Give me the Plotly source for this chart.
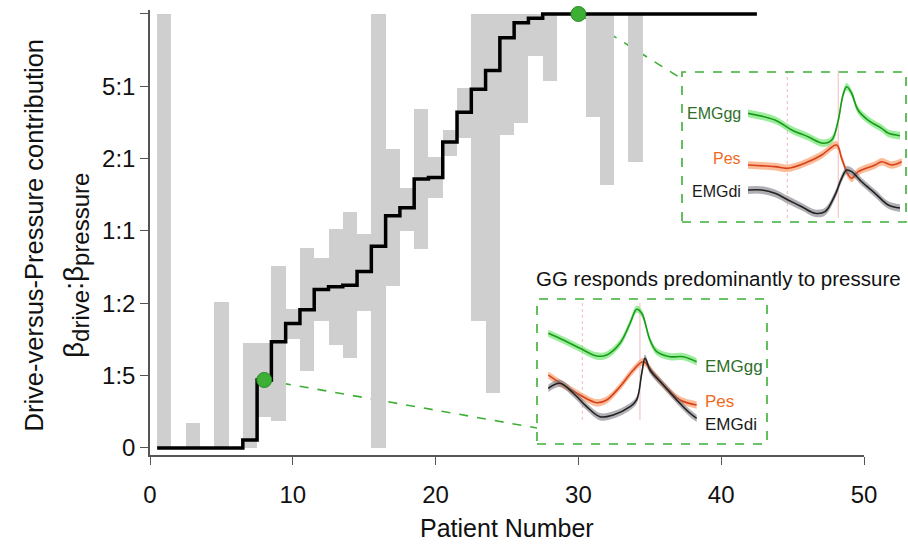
import plotly.graph_objects as go

# ---------------- main data ----------------
patients = list(range(1, 43))
drive_pressure = [0, 0, 0, 0, 0, 0, 0.11, 0.94, 1.47, 1.72, 1.91, 2.19, 2.23, 2.25,
                  2.44, 2.79, 3.21, 3.32, 3.72, 3.74, 4.23, 4.64, 4.96, 5.22, 5.67,
                  5.88, 5.94, 6, 6, 6, 6, 6, 6, 6, 6, 6, 6, 6, 6, 6, 6, 6]
ci_low = [0, None, 0, None, 0, None, 0, 0.43, 0.37, 1.50, 1.07, 1.76, 1.42, 1.24,
          1.90, 0, 2.24, 3.00, 2.75, 3.45, 4.04, 4.28, 1.75, 0.76, 4.33, 4.49, 5.42,
          5.07, None, None, 4.58, 3.63, None, 3.95, None, None, None, None, None,
          None, None, None]
ci_high = [6, None, 0.35, None, 2.02, None, 1.45, 1.45, 2.52, 1.92, 2.76, 2.63, 3.03,
           3.26, 2.96, 6, 4.14, 3.60, 4.68, 4.02, 4.40, 4.98, 6, 6, 6, 6, 6, 6, None,
           None, 6, 6, None, 6, None, None, None, None, None, None, None, None]
highlight_patients = [8, 30]

y_tickvals = [0, 1, 2, 3, 4, 5, 6]
y_ticktext = ["0", "1:5", "1:2", "1:1", "2:1", "5:1", ""]
x_tickvals = [0, 10, 20, 30, 40, 50]

# ---------------- inset data (time %, amplitude a.u.) ----------------
# top inset: GG responds predominantly to drive
top_gg_t = [0, 17.5, 28.4, 39, 48.7, 54.4, 58.4, 61.7, 64.1, 67.3, 71.4, 77.9, 86.8, 90.9, 98.7]
top_gg_v = [70.7, 66.2, 59.5, 54.9, 50.5, 52.7, 65.1, 83.1, 88.7, 84.3, 73, 66.2, 60.6, 57.4, 55.6]
top_pes_t = [0, 17.5, 26, 39, 47.9, 57.6, 60.8, 65.1, 67.3, 71.6, 82.5, 86.8, 93.3, 99.8]
top_pes_v = [35.8, 34.7, 33.6, 38, 42.6, 49.3, 40.4, 29.1, 26.8, 31.3, 35.8, 38, 35.8, 38]
top_di_t = [0, 8.9, 17.5, 26, 34.9, 43.5, 50, 56.5, 60.8, 64.1, 67.3, 73.8, 82.5, 91.1, 98.7]
top_di_v = [18.9, 18.9, 16.7, 12.2, 7.6, 3.2, 4.3, 15.5, 26.8, 32.4, 31.3, 24.5, 16.7, 8.8, 6.7]
top_markers_t = [25.5, 58.6]

# bottom inset: GG responds predominantly to pressure
bot_gg_t = [0.2, 10.2, 21.3, 32.5, 39.1, 48, 54.7, 59.1, 62.5, 68, 72.5, 81.3, 90.2, 99.1]
bot_gg_v = [76.2, 71.4, 65.5, 60, 60.7, 69.1, 83.4, 93.4, 90.5, 71.4, 63.1, 59.5, 59.5, 55.9]
bot_pes_t = [0.2, 10.2, 21.3, 32.5, 39.1, 48, 56.9, 63.5, 70.2, 79.1, 88, 99.1]
bot_pes_v = [46.4, 39.3, 32.1, 26.6, 28.6, 38.1, 50, 55.9, 47.6, 36.9, 28.6, 25]
bot_di_t = [0.2, 8, 16.9, 25.8, 34.7, 43.5, 54.7, 59.1, 62.5, 64.7, 68, 76.9, 85.8, 94.7, 99.1]
bot_di_v = [36.9, 40.5, 33.4, 23.8, 16.6, 17.9, 23.8, 28.6, 47.6, 58.4, 50, 39.3, 28.6, 19.1, 15.5]
bot_markers_t = [22.9, 61.3]
band_halfwidth = 2.6

inset_title = "GG responds predominantly to pressure"

# ---------------- layout helpers ----------------
W, H = 908, 546
ML, MR, MT, MB = 150, 2, 10, 91
PW, PH = W - ML - MR, H - MT - MB


def paper(px, py):
    return (px - ML) / PW, (H - MB - py) / PH


XDOM = [0, paper(864, 0)[0]]
XR = [0, 50]
YR = [-0.097, 6.055]


def data_to_paper(x, y):
    fx = XDOM[0] + (x - XR[0]) / (XR[1] - XR[0]) * (XDOM[1] - XDOM[0])
    fy = (y - YR[0]) / (YR[1] - YR[0])
    return fx, fy


FONT = "Liberation Sans, Arial, sans-serif"
GREEN = "#3daf35"

fig = go.Figure()

# CI bars
bx, bbase, bh = [], [], []
for p, lo, hi in zip(patients, ci_low, ci_high):
    if lo is None:
        continue
    bx.append(p)
    bbase.append(lo)
    bh.append(hi - lo)
fig.add_trace(go.Bar(x=bx, y=bh, base=bbase, width=1, marker=dict(color="#cfcfcf", line=dict(width=0)),
                     showlegend=False, hoverinfo="skip"))

# step line
sx = [p - 0.5 for p in patients] + [patients[-1] + 0.5]
sy = drive_pressure + [drive_pressure[-1]]
fig.add_trace(go.Scatter(x=sx, y=sy, mode="lines", line=dict(color="black", width=3.5, shape="hv"),
                         showlegend=False, hoverinfo="skip", cliponaxis=False))

# highlighted dots
hy = [drive_pressure[patients.index(p)] for p in highlight_patients]
fig.add_trace(go.Scatter(x=highlight_patients, y=hy, mode="markers",
                         marker=dict(size=15, color=GREEN, line=dict(color="#2a8a25", width=1)),
                         showlegend=False, cliponaxis=False, hoverinfo="skip"))

# boxes (paper coords)
top_box = (paper(682, 222), paper(906, 72))
bot_box = (paper(537, 444), paper(767, 299))
shapes = []
for (x0, y0), (x1, y1) in (top_box, bot_box):
    shapes.append(dict(type="rect", xref="paper", yref="paper", x0=x0, y0=y0, x1=x1, y1=y1,
                       line=dict(color=GREEN, width=1.6, dash="dash"), layer="above"))

# connectors
d1 = data_to_paper(highlight_patients[0], hy[0])
e1 = paper(537, 428)
d2 = data_to_paper(highlight_patients[1], hy[1])
e2 = paper(682, 79)
for (a, b) in ((d1, e1), (d2, e2)):
    shapes.append(dict(type="line", xref="paper", yref="paper", x0=a[0], y0=a[1], x1=b[0], y1=b[1],
                       line=dict(color=GREEN, width=1.6, dash="dash"), layer="below"))

# inset axes
top_dom_x = [paper(748, 0)[0], paper(902, 0)[0]]
top_dom_y = [paper(0, 218)[1], paper(0, 70)[1]]
bot_dom_x = [paper(548, 0)[0], paper(698, 0)[0]]
bot_dom_y = [paper(0, 440)[1], paper(0, 300)[1]]


def add_curve(t, v, xa, ya, line_color, band_color):
    up = [a + band_halfwidth for a in v]
    dn = [a - band_halfwidth for a in v]
    fig.add_trace(go.Scatter(x=t, y=up, xaxis=xa, yaxis=ya, mode="lines", line=dict(width=0, shape="spline"),
                             showlegend=False, hoverinfo="skip"))
    fig.add_trace(go.Scatter(x=t, y=dn, xaxis=xa, yaxis=ya, mode="lines", line=dict(width=0, shape="spline"),
                             fill="tonexty", fillcolor=band_color, showlegend=False, hoverinfo="skip"))
    fig.add_trace(go.Scatter(x=t, y=v, xaxis=xa, yaxis=ya, mode="lines",
                             line=dict(color=line_color, width=1.6, shape="spline"),
                             showlegend=False, hoverinfo="skip"))


for xa, ya, mk, ytop, ybot in (("x2", "y2", top_markers_t, 100, 0), ("x3", "y3", bot_markers_t, 97.9, 14.3)):
    for i, m in enumerate(mk):
        fig.add_trace(go.Scatter(x=[m, m], y=[ybot, ytop], xaxis=xa, yaxis=ya, mode="lines",
                                 line=dict(color="#f2b9b9", width=1, dash="dot" if i == 0 else "solid"),
                                 showlegend=False, hoverinfo="skip"))

add_curve(top_gg_t, top_gg_v, "x2", "y2", "#1a9a1a", "rgba(90,225,90,0.6)")
add_curve(top_pes_t, top_pes_v, "x2", "y2", "#d8401a", "rgba(250,160,110,0.7)")
add_curve(top_di_t, top_di_v, "x2", "y2", "#222222", "rgba(110,110,120,0.55)")
add_curve(bot_gg_t, bot_gg_v, "x3", "y3", "#1a9a1a", "rgba(90,225,90,0.6)")
add_curve(bot_pes_t, bot_pes_v, "x3", "y3", "#d8401a", "rgba(250,160,110,0.7)")
add_curve(bot_di_t, bot_di_v, "x3", "y3", "#222222", "rgba(110,110,120,0.55)")

annotations = []
LABEL_GREEN, LABEL_ORANGE, LABEL_BLACK = "#2f6f2a", "#f06a1e", "#1a1a1a"
for txt, py, col in (("EMGgg", 113, LABEL_GREEN), ("Pes", 159, LABEL_ORANGE), ("EMGdi", 191, LABEL_BLACK)):
    x, y = paper(743, py)
    annotations.append(dict(x=x, y=y, xref="paper", yref="paper", text=txt, showarrow=False,
                            xanchor="right", yanchor="middle", font=dict(family=FONT, size=16, color=col)))
for txt, py, col in (("EMGgg", 366, LABEL_GREEN), ("Pes", 401, LABEL_ORANGE), ("EMGdi", 424, LABEL_BLACK)):
    x, y = paper(703, py)
    annotations.append(dict(x=x, y=y, xref="paper", yref="paper", text=txt, showarrow=False,
                            xanchor="left", yanchor="middle", font=dict(family=FONT, size=17, color=col)))

tx, ty = paper(718.5, 278)
annotations.append(dict(x=tx, y=ty, xref="paper", yref="paper", text=inset_title, showarrow=False,
                        xanchor="center", yanchor="middle", font=dict(family=FONT, size=20.5, color="#111")))

# axis titles
ax_, ay_ = paper(507, 528)
annotations.append(dict(x=ax_, y=ay_, xref="paper", yref="paper", text="Patient Number", showarrow=False,
                        xanchor="center", yanchor="middle", font=dict(family=FONT, size=25, color="#111")))
l1x, l1y = paper(33.5, 235)
annotations.append(dict(x=l1x, y=l1y, xref="paper", yref="paper", text="Drive-versus-Pressure contribution",
                        showarrow=False, textangle=-90, xanchor="center", yanchor="middle",
                        font=dict(family=FONT, size=25.5, color="#111")))
l2x, l2y = paper(76, 266)
annotations.append(dict(x=l2x, y=l2y, xref="paper", yref="paper",
                        text="β<sub><span style='font-size:24px'>drive</span></sub>:β<sub><span style='font-size:24px'>pressure</span></sub>",
                        showarrow=False, textangle=-90, xanchor="center", yanchor="middle",
                        font=dict(family=FONT, size=28, color="#111")))

hidden = dict(visible=False, fixedrange=True, automargin=False)
fig.update_layout(
    width=W, height=H, autosize=False,
    margin=dict(l=ML, r=MR, t=MT, b=MB, autoexpand=False),
    paper_bgcolor="white", plot_bgcolor="white",
    bargap=0, barmode="overlay",
    font=dict(family=FONT, color="#111"),
    xaxis=dict(domain=XDOM, range=XR, tickvals=x_tickvals, ticks="outside", ticklen=8, tickwidth=1.2,
               tickcolor="#555", showline=True, linecolor="#555", linewidth=1.5, showgrid=False,
               zeroline=False, tickfont=dict(family=FONT, size=24, color="#111"), ticklabelstandoff=9,
               automargin=False),
    yaxis=dict(domain=[0, 1], range=YR, tickvals=y_tickvals, ticktext=y_ticktext, ticks="outside",
               ticklen=8, tickwidth=1.2, tickcolor="#555", showline=True, linecolor="#555", linewidth=1.5,
               showgrid=False, zeroline=False, tickfont=dict(family=FONT, size=24, color="#111"),
               automargin=False),
    xaxis2=dict(domain=top_dom_x, range=[0, 100], anchor="y2", **hidden),
    yaxis2=dict(domain=top_dom_y, range=[0, 100], anchor="x2", **hidden),
    xaxis3=dict(domain=bot_dom_x, range=[0, 100], anchor="y3", **hidden),
    yaxis3=dict(domain=bot_dom_y, range=[0, 100], anchor="x3", **hidden),
    shapes=shapes,
    annotations=annotations,
    showlegend=False,
)

post = ("document.documentElement.style.overflow='hidden';"
        "document.body.style.overflow='hidden';document.body.style.margin='0';")
fig.write_html("out.html", config={"responsive": False}, post_script=post)
